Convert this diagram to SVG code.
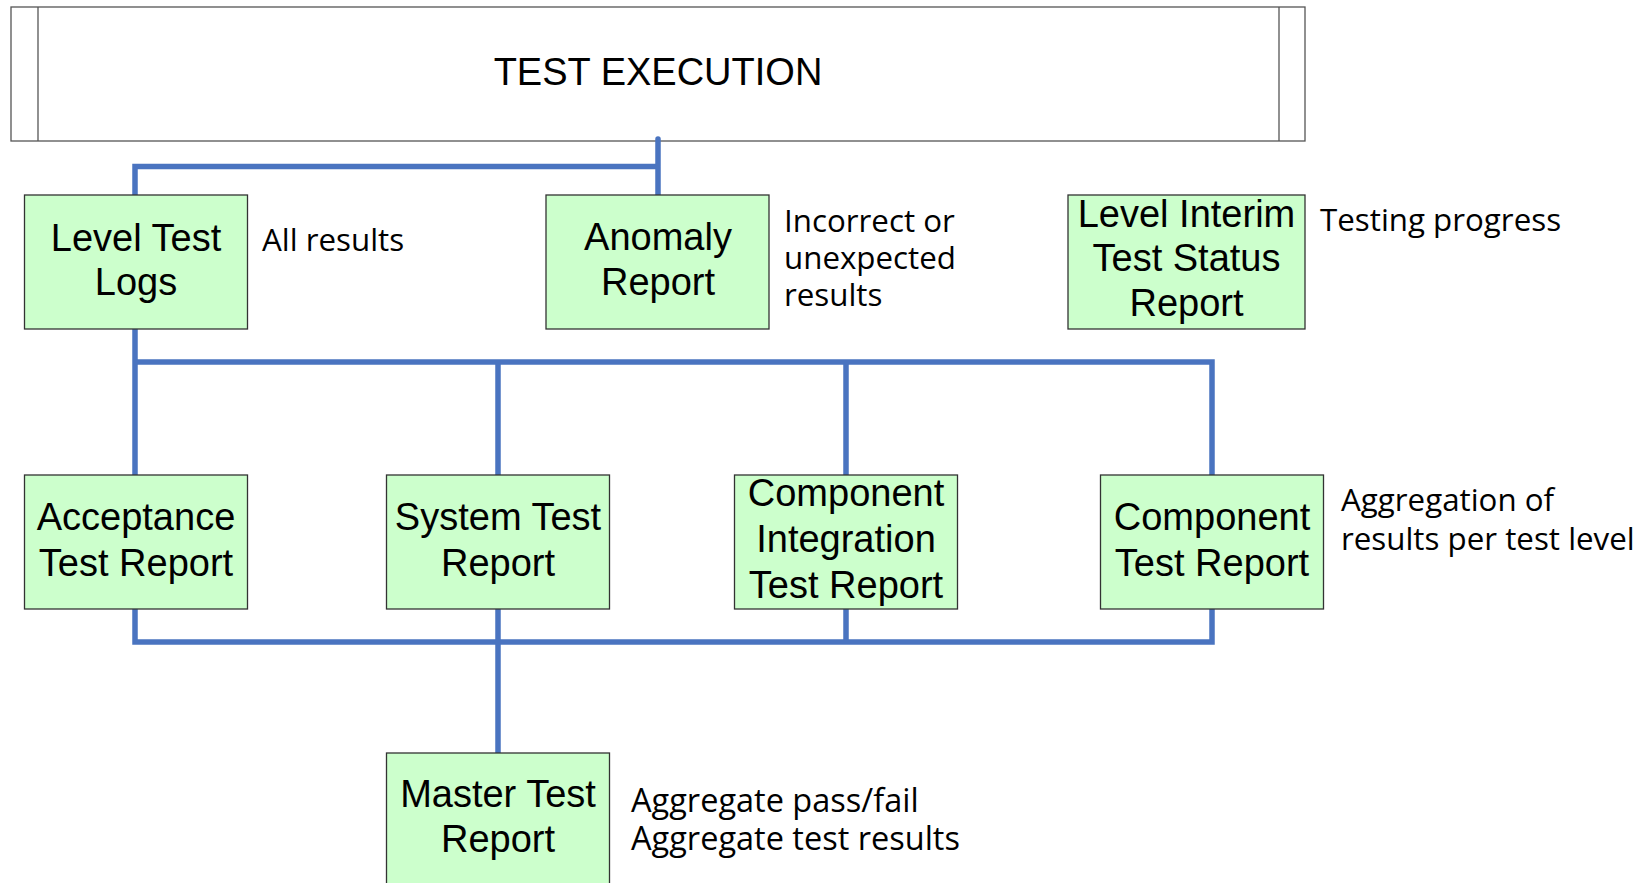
<svg xmlns="http://www.w3.org/2000/svg" width="1646" height="883" viewBox="0 0 1646 883">
<style>
.box{fill:#ccffcc;stroke:#333;stroke-width:1.3}
.bt{font-family:"Liberation Sans",Arial,sans-serif;font-size:38px;fill:#000;text-anchor:middle}
.lb{font-family:"Open Sans","Noto Sans",sans-serif;font-size:31.3px;fill:#000}
.lb2{font-family:"Open Sans","Noto Sans",sans-serif;font-size:32.5px;fill:#000}
.cn{fill:none;stroke:#4a74c0;stroke-width:5.5;stroke-linecap:round;stroke-linejoin:miter}
</style>
<rect width="1646" height="883" fill="#fff"/>
<g id="test-execution">
<rect x="11" y="7" width="1294" height="134" fill="#fff" stroke="#555" stroke-width="1.3"/>
<line x1="38" y1="7" x2="38" y2="141" stroke="#555" stroke-width="1.3"/>
<line x1="1279" y1="7" x2="1279" y2="141" stroke="#555" stroke-width="1.3"/>
<text x="658" y="85" class="bt">TEST EXECUTION</text>
</g>
<g id="connectors">
<path class="cn" d="M658 139V196M135 196V166.5H658"/>
<path class="cn" d="M135 329V475M135 362H1212V475M498 362V475M846 362V475"/>
<path class="cn" d="M135 609V642H1212V609M498 609V753M846 609V642"/>
</g>
<g id="level-test-logs">
<rect class="box" x="24.5" y="195" width="223" height="134"/>
<text class="bt" x="136" y="251">Level Test</text>
<text class="bt" x="136" y="295">Logs</text>
<text class="lb" x="262" y="251">All results</text>
</g>
<g id="anomaly-report">
<rect class="box" x="546" y="195" width="223" height="134"/>
<text class="bt" x="658" y="250">Anomaly</text>
<text class="bt" x="658" y="295">Report</text>
<text class="lb" x="784" y="232">Incorrect or</text>
<text class="lb" x="784" y="269">unexpected</text>
<text class="lb" x="784" y="306">results</text>
</g>
<g id="level-interim">
<rect class="box" x="1068" y="195" width="237" height="134"/>
<text class="bt" x="1186.5" y="227">Level Interim</text>
<text class="bt" x="1186.5" y="271">Test Status</text>
<text class="bt" x="1186.5" y="316">Report</text>
<text class="lb" x="1320" y="231">Testing progress</text>
</g>
<g id="acceptance">
<rect class="box" x="24.5" y="475" width="223" height="134"/>
<text class="bt" x="136" y="530">Acceptance</text>
<text class="bt" x="136" y="576">Test Report</text>
</g>
<g id="system">
<rect class="box" x="386.5" y="475" width="223" height="134"/>
<text class="bt" x="498" y="530">System Test</text>
<text class="bt" x="498" y="576">Report</text>
</g>
<g id="component-integration">
<rect class="box" x="734.5" y="475" width="223" height="134"/>
<text class="bt" x="846" y="506">Component</text>
<text class="bt" x="846" y="552">Integration</text>
<text class="bt" x="846" y="598">Test Report</text>
</g>
<g id="component-test">
<rect class="box" x="1100.5" y="475" width="223" height="134"/>
<text class="bt" x="1212" y="530">Component</text>
<text class="bt" x="1212" y="576">Test Report</text>
<text class="lb" x="1341" y="511">Aggregation of</text>
<text class="lb" x="1341" y="550">results per test level</text>
</g>
<g id="master">
<rect class="box" x="386.5" y="753" width="223" height="140"/>
<text class="bt" x="498" y="807">Master Test</text>
<text class="bt" x="498" y="852">Report</text>
<text class="lb2" x="631" y="812">Aggregate pass/fail</text>
<text class="lb2" x="631" y="850">Aggregate test results</text>
</g>
</svg>
